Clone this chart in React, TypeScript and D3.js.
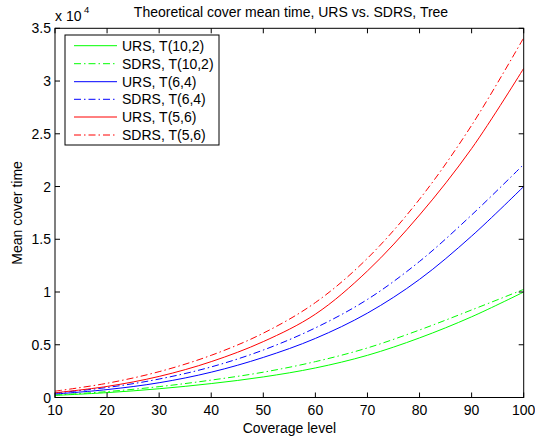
import React from "react";
import * as d3 from "d3";

const coverage = [10, 20, 30, 40, 50, 60, 70, 80, 90, 100];
const ursT10_2 = [200, 460, 830, 1320, 1950, 2800, 4000, 5650, 7650, 10000];
const sdrsT10_2 = [230, 560, 1030, 1650, 2400, 3400, 4700, 6400, 8300, 10250];
const ursT6_4 = [330, 750, 1400, 2400, 3800, 5600, 8000, 11200, 15300, 20000];
const sdrsT6_4 = [420, 950, 1750, 2900, 4500, 6600, 9300, 12900, 17300, 22100];
const ursT5_6 = [450, 1050, 2000, 3400, 5300, 7900, 12000, 17300, 23600, 31200];
const sdrsT5_6 = [600, 1350, 2450, 4000, 6100, 9000, 13200, 18800, 25800, 34100];

const xTicks = [10, 20, 30, 40, 50, 60, 70, 80, 90, 100];
const yTicks = [0, 5000, 10000, 15000, 20000, 25000, 30000, 35000];

const seriesNames = [
  "URS, T(10,2)",
  "SDRS, T(10,2)",
  "URS, T(6,4)",
  "SDRS, T(6,4)",
  "URS, T(5,6)",
  "SDRS, T(5,6)",
];
const seriesValues = [ursT10_2, sdrsT10_2, ursT6_4, sdrsT6_4, ursT5_6, sdrsT5_6];
const seriesColors = ["#00ff00", "#00ff00", "#0000ff", "#0000ff", "#ff0000", "#ff0000"];
const seriesDashed = [false, true, false, true, false, true];

const W = 535;
const H = 440;
const L = 55;
const R = 523.7;
const T = 28.3;
const B = 397.5;
const FONT = "'Liberation Sans', Arial, Helvetica, sans-serif";
const DASH = "7,3,1.5,3";
const FS = 14;

export default function App() {
  const x = d3.scaleLinear().domain([10, 100]).range([L, R]);
  const y = d3.scaleLinear().domain([0, 35000]).range([B, T]);
  const line = d3
    .line<number>()
    .x((_, i) => x(coverage[i]))
    .y((d) => y(d))
    .curve(d3.curveCatmullRom.alpha(0.5));

  const legX = 65;
  const legY = 35;
  const legW = 154;
  const legH = 110;
  const rowY = [45.7, 63.7, 81.7, 99.3, 117, 135];

  return (
    <svg
      width={W}
      height={H}
      style={{ position: "absolute", left: 0, top: 0, background: "#fff" }}
      fontFamily={FONT}
    >
      <rect x={0} y={0} width={W} height={H} fill="#fff" />
      <defs>
        <clipPath id="plot">
          <rect x={L} y={T} width={R - L} height={B - T} />
        </clipPath>
      </defs>
      <g clipPath="url(#plot)">
        {seriesValues.map((vals, i) => (
          <path
            key={i}
            d={line(vals) || ""}
            fill="none"
            stroke={seriesColors[i]}
            strokeWidth={1}
            strokeDasharray={seriesDashed[i] ? DASH : undefined}
          />
        ))}
      </g>
      <rect x={L} y={T} width={R - L} height={B - T} fill="none" stroke="#000" strokeWidth={1} />
      {xTicks.map((t) => (
        <g key={"x" + t}>
          <line x1={x(t)} x2={x(t)} y1={B} y2={B - 5} stroke="#000" />
          <line x1={x(t)} x2={x(t)} y1={T} y2={T + 5} stroke="#000" />
          <text x={x(t)} y={415} fontSize={FS} textAnchor="middle" fill="#000">
            {t}
          </text>
        </g>
      ))}
      {yTicks.map((t) => (
        <g key={"y" + t}>
          <line x1={L} x2={L + 5} y1={y(t)} y2={y(t)} stroke="#000" />
          <line x1={R} x2={R - 5} y1={y(t)} y2={y(t)} stroke="#000" />
          <text x={51} y={y(t) + 5} fontSize={FS} textAnchor="end" fill="#000">
            {d3.format("~g")(t / 10000)}
          </text>
        </g>
      ))}
      <text x={55} y={21} fontSize={FS} fill="#000">
        x 10
      </text>
      <text x={84} y={13} fontSize={9.5} fill="#000">
        4
      </text>
      <text x={291} y={17} fontSize={FS} textAnchor="middle" fill="#000">
        Theoretical cover mean time, URS vs. SDRS, Tree
      </text>
      <text x={(L + R) / 2} y={433} fontSize={FS} textAnchor="middle" fill="#000">
        Coverage level
      </text>
      <text
        transform={`translate(22,${(T + B) / 2}) rotate(-90)`}
        fontSize={FS}
        textAnchor="middle"
        fill="#000"
      >
        Mean cover time
      </text>
      <rect x={legX} y={legY} width={legW} height={legH} fill="#fff" stroke="#000" strokeWidth={1} />
      {seriesNames.map((name, i) => (
        <g key={name}>
          <line
            x1={74}
            x2={117}
            y1={rowY[i]}
            y2={rowY[i]}
            stroke={seriesColors[i]}
            strokeWidth={1}
            strokeDasharray={seriesDashed[i] ? DASH : undefined}
          />
          <text x={122} y={rowY[i] + 5} fontSize={FS} fill="#000">
            {name}
          </text>
        </g>
      ))}
    </svg>
  );
}
